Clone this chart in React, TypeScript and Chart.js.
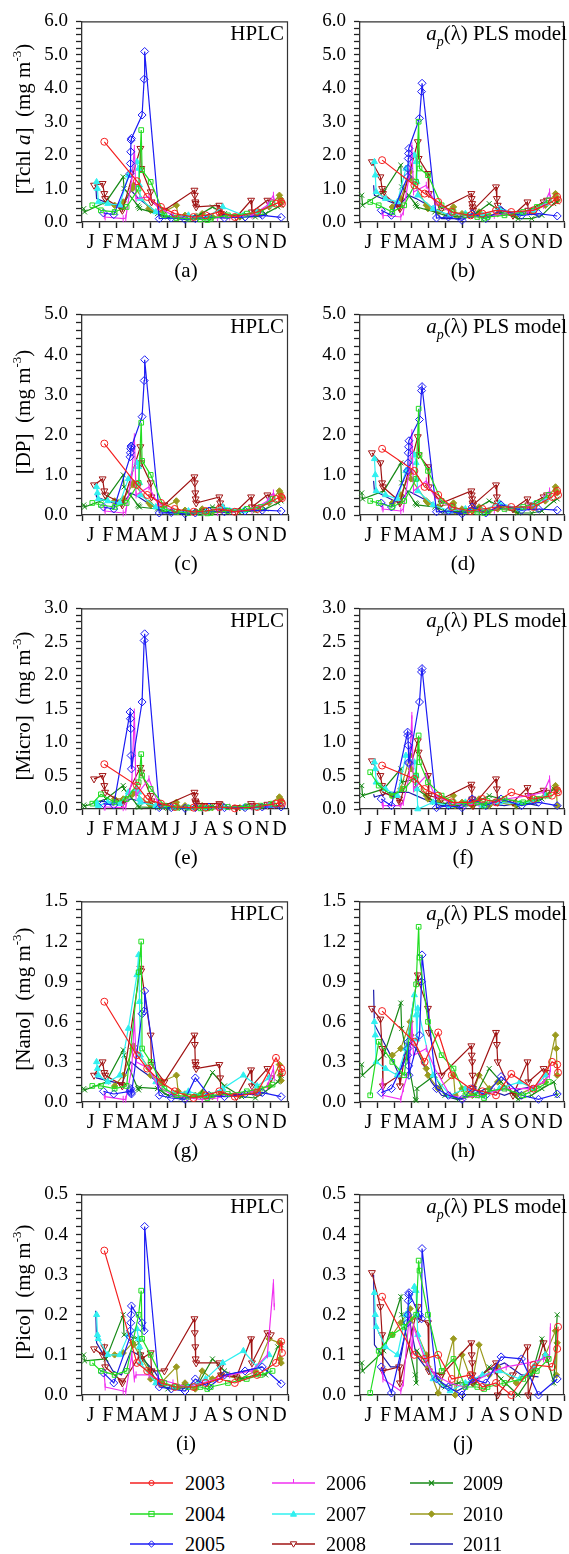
import React, { useEffect, useRef } from 'react';
import { Chart, registerables } from 'chart.js';
Chart.register(...registerables);

const YEARS = ['2003', '2004', '2005', '2006', '2007', '2008', '2009', '2010', '2011'];
const MONTH_LABELS = ['J', 'F', 'M', 'A', 'M', 'J', 'J', 'A', 'S', 'O', 'N', 'D'];

// sampling dates in months since 1 January
const DATES_2003 = [1.3, 3.2, 3.8, 4.6, 5.4, 6.5, 7.2, 8.0, 8.9, 10.2, 11.3, 11.6, 11.65];
const DATES_2004 = [0.6, 1.1, 1.9, 2.6, 3.3, 3.45, 3.5, 4.0, 4.8, 5.5, 6.2, 6.9, 7.3, 7.5, 8.5, 9.6, 10.4, 11.1];
const DATES_2005 = [1.25, 1.85, 2.8, 2.82, 2.84, 2.86, 2.88, 3.5, 3.62, 3.65, 4.5, 5.2, 6.0, 6.6, 7.4, 8.3, 9.5, 10.5, 11.6];
const DATES_2006 = [1.3, 1.35, 2.4, 2.55, 2.9, 3.05, 3.15, 3.9, 4.4, 5.3, 6.1, 7.0, 7.9, 8.6, 9.9, 10.8, 11.15, 11.2];
const DATES_2007 = [0.85, 0.9, 0.95, 1.5, 2.2, 2.7, 3.2, 3.3, 3.35, 3.4, 4.3, 5.3, 6.2, 7.2, 8.2, 9.4, 10.2, 10.9];
const DATES_2008 = [0.7, 1.2, 1.3, 1.35, 2.3, 2.35, 3.4, 3.45, 4.0, 4.05, 4.8, 6.55, 6.57, 6.6, 6.62, 6.65, 8.0, 8.05, 8.1, 9.0, 9.85, 9.9, 10.8, 11.0];
const DATES_2009 = [0.1, 0.15, 1.4, 2.4, 2.45, 3.25, 3.3, 3.35, 4.4, 5.0, 5.8, 6.8, 7.6, 8.3, 9.3, 10.1, 10.7, 11.4, 11.6];
const DATES_2010 = [1.9, 2.4, 2.95, 3.0, 3.9, 4.0, 4.6, 5.5, 5.6, 6.0, 6.6, 7.0, 7.6, 8.1, 9.2, 10.1, 10.9, 11.5, 11.55, 11.6];
const DATES_2011 = [0.8, 0.85, 1.8, 2.3, 2.85, 3.3, 4.2, 4.8, 5.7, 6.6, 7.4, 8.5, 9.5, 10.5];
const SAMPLE_DATES = [DATES_2003, DATES_2004, DATES_2005, DATES_2006, DATES_2007, DATES_2008, DATES_2009, DATES_2010, DATES_2011];

// one row per year (2003..2011)
const TCHL_HPLC = [
  [2.4, 1.22, 0.75, 0.45, 0.25, 0.15, 0.2, 0.3, 0.15, 0.3, 0.55, 0.6, 0.55],
  [0.5, 0.35, 0.3, 0.45, 1.0, 2.75, 1.55, 1.2, 0.2, 0.12, 0.1, 0.08, 0.06, 0.1, 0.2, 0.25, 0.3, 0.55],
  [0.27, 0.22, 1.45, 1.75, 2.1, 2.45, 2.5, 3.2, 4.27, 5.1, 0.1, 0.12, 0.08, 0.1, 0.15, 0.12, 0.15, 0.2, 0.14],
  [0.2, 0.15, 0.1, 0.12, 1.3, 2.2, 0.7, 0.75, 0.45, 0.2, 0.12, 0.1, 0.12, 0.15, 0.2, 0.5, 0.8, 0.6],
  [1.2, 1.0, 0.6, 0.55, 0.5, 1.4, 1.8, 1.6, 1.1, 0.7, 0.3, 0.15, 0.2, 0.12, 0.45, 0.2, 0.3, 0.5],
  [1.1, 1.15, 0.85, 0.7, 0.4, 0.35, 2.2, 1.6, 0.9, 0.6, 0.35, 0.95, 0.8, 0.6, 0.55, 0.45, 0.5, 0.4, 0.25, 0.15, 0.65, 0.3, 0.65, 0.6],
  [0.4, 0.3, 0.6, 1.35, 1.0, 0.5, 0.45, 0.4, 0.25, 0.15, 0.15, 0.2, 0.45, 0.25, 0.15, 0.15, 0.25, 0.45, 0.5],
  [0.5, 0.6, 1.0, 1.1, 0.4, 0.35, 0.25, 0.5, 0.15, 0.2, 0.15, 0.25, 0.15, 0.2, 0.15, 0.25, 0.45, 0.8, 0.7, 0.6],
  [1.1, 0.7, 0.5, 0.4, 0.95, 0.7, 0.35, 0.15, 0.1, 0.12, 0.15, 0.12, 0.2, 0.15],
];
const TCHL_MODEL = [
  [1.85, 1.1, 0.85, 0.6, 0.3, 0.2, 0.25, 0.35, 0.3, 0.35, 0.6, 0.75, 0.65],
  [0.6, 0.5, 0.3, 0.5, 1.2, 3.0, 1.6, 1.4, 0.5, 0.3, 0.2, 0.15, 0.1, 0.15, 0.2, 0.3, 0.45, 0.65],
  [0.35, 0.2, 1.35, 1.6, 1.9, 2.05, 2.2, 3.1, 3.9, 4.15, 0.12, 0.15, 0.05, 0.25, 0.1, 0.35, 0.2, 0.25, 0.18],
  [0.3, 0.2, 0.15, 0.3, 1.4, 2.3, 0.9, 1.1, 0.6, 0.3, 0.2, 0.15, 0.2, 0.25, 0.3, 0.5, 0.9, 0.7],
  [1.8, 1.4, 0.9, 0.7, 0.6, 1.6, 2.0, 1.8, 1.2, 0.8, 0.4, 0.2, 0.25, 0.2, 0.4, 0.25, 0.35, 0.55],
  [1.8, 1.35, 1.0, 0.85, 0.45, 0.4, 2.4, 1.9, 1.45, 0.85, 0.4, 0.85, 0.7, 0.55, 0.45, 0.35, 1.05, 0.7, 0.5, 0.2, 0.6, 0.35, 0.6, 0.65],
  [0.8, 0.5, 0.9, 1.7, 1.05, 0.55, 0.5, 0.45, 0.3, 0.2, 0.15, 0.25, 0.55, 0.3, 0.1, 0.1, 0.2, 0.55, 0.6],
  [0.45, 0.7, 1.5, 1.3, 0.5, 0.4, 0.3, 0.45, 0.2, 0.25, 0.2, 0.3, 0.2, 0.25, 0.2, 0.3, 0.5, 0.85, 0.75, 0.65],
  [1.1, 0.8, 0.6, 0.5, 0.8, 0.7, 0.45, 0.1, 0.1, 0.15, 0.2, 0.25, 0.3, 0.2],
];
const DP_HPLC = [
  [1.78, 0.75, 0.5, 0.3, 0.15, 0.08, 0.1, 0.15, 0.08, 0.15, 0.4, 0.45, 0.42],
  [0.3, 0.25, 0.2, 0.3, 0.8, 2.3, 1.35, 1.0, 0.15, 0.08, 0.05, 0.05, 0.04, 0.05, 0.1, 0.15, 0.2, 0.4],
  [0.2, 0.15, 1.45, 1.55, 1.65, 1.72, 1.7, 2.45, 3.35, 3.87, 0.05, 0.06, 0.03, 0.05, 0.1, 0.08, 0.1, 0.12, 0.1],
  [0.15, 0.1, 0.05, 0.08, 1.0, 1.95, 0.5, 0.7, 0.3, 0.1, 0.05, 0.05, 0.06, 0.1, 0.12, 0.35, 0.55, 0.45],
  [0.7, 0.55, 0.4, 0.35, 0.3, 0.9, 1.3, 1.2, 0.8, 0.5, 0.2, 0.08, 0.1, 0.06, 0.2, 0.1, 0.15, 0.35],
  [0.75, 0.9, 0.6, 0.5, 0.3, 0.25, 1.7, 1.3, 0.8, 0.45, 0.25, 0.95, 0.8, 0.55, 0.4, 0.3, 0.45, 0.3, 0.2, 0.1, 0.45, 0.2, 0.5, 0.45],
  [0.25, 0.2, 0.4, 1.0, 0.7, 0.25, 0.22, 0.2, 0.15, 0.08, 0.08, 0.1, 0.2, 0.12, 0.08, 0.1, 0.15, 0.3, 0.35],
  [0.35, 0.4, 0.75, 0.8, 0.3, 0.25, 0.15, 0.35, 0.08, 0.12, 0.08, 0.15, 0.08, 0.12, 0.1, 0.15, 0.3, 0.6, 0.55, 0.45],
  [0.55, 0.45, 0.3, 0.25, 0.55, 0.45, 0.2, 0.08, 0.05, 0.06, 0.08, 0.06, 0.12, 0.1],
];
const DP_MODEL = [
  [1.65, 1.1, 0.7, 0.5, 0.2, 0.1, 0.15, 0.2, 0.2, 0.2, 0.45, 0.6, 0.5],
  [0.35, 0.3, 0.2, 0.35, 0.9, 2.65, 1.5, 1.1, 0.35, 0.2, 0.1, 0.08, 0.05, 0.1, 0.15, 0.2, 0.3, 0.5],
  [0.3, 0.2, 1.1, 1.3, 1.55, 1.7, 1.85, 2.38, 3.1, 3.2, 0.08, 0.1, 0.03, 0.2, 0.05, 0.25, 0.12, 0.15, 0.12],
  [0.2, 0.15, 0.1, 0.15, 1.1, 2.05, 0.6, 0.85, 0.45, 0.2, 0.1, 0.1, 0.12, 0.15, 0.2, 0.4, 0.6, 0.5],
  [1.4, 1.0, 0.6, 0.5, 0.4, 1.1, 1.5, 1.3, 0.9, 0.6, 0.25, 0.1, 0.15, 0.1, 0.3, 0.15, 0.25, 0.4],
  [1.55, 1.3, 0.8, 0.7, 0.35, 0.3, 1.95, 1.5, 1.2, 0.7, 0.3, 0.6, 0.5, 0.4, 0.3, 0.25, 0.75, 0.45, 0.3, 0.15, 0.4, 0.25, 0.45, 0.5],
  [0.55, 0.4, 0.6, 1.3, 0.8, 0.3, 0.28, 0.25, 0.2, 0.1, 0.08, 0.15, 0.35, 0.2, 0.05, 0.05, 0.1, 0.35, 0.4],
  [0.3, 0.5, 1.05, 0.9, 0.35, 0.3, 0.2, 0.3, 0.1, 0.15, 0.1, 0.2, 0.1, 0.15, 0.1, 0.2, 0.35, 0.7, 0.6, 0.55],
  [0.85, 0.6, 0.4, 0.3, 0.6, 0.5, 0.3, 0.05, 0.05, 0.08, 0.1, 0.15, 0.2, 0.12],
];
const MICRO_HPLC = [
  [0.67, 0.35, 0.15, 0.08, 0.03, 0.02, 0.02, 0.03, 0.01, 0.03, 0.08, 0.1, 0.08],
  [0.08, 0.22, 0.1, 0.15, 0.4, 0.82, 0.5, 0.3, 0.05, 0.02, 0.02, 0.01, 0.01, 0.02, 0.03, 0.04, 0.05, 0.08],
  [0.08, 0.06, 1.45, 1.35, 1.2, 0.8, 0.6, 1.6, 2.52, 2.62, 0.02, 0.02, 0.01, 0.02, 0.03, 0.02, 0.02, 0.03, 0.03],
  [0.03, 0.03, 0.02, 0.03, 0.4, 1.45, 0.2, 0.45, 0.1, 0.03, 0.02, 0.01, 0.02, 0.03, 0.03, 0.05, 0.08, 0.06],
  [0.1, 0.07, 0.05, 0.1, 0.08, 0.25, 0.3, 0.25, 0.15, 0.1, 0.05, 0.02, 0.02, 0.01, 0.03, 0.02, 0.03, 0.05],
  [0.45, 0.5, 0.35, 0.25, 0.1, 0.08, 0.62, 0.55, 0.2, 0.12, 0.05, 0.25, 0.2, 0.12, 0.1, 0.08, 0.08, 0.06, 0.04, 0.02, 0.08, 0.05, 0.07, 0.06],
  [0.06, 0.04, 0.15, 0.35, 0.3, 0.05, 0.03, 0.03, 0.02, 0.01, 0.01, 0.02, 0.04, 0.03, 0.01, 0.02, 0.03, 0.05, 0.05],
  [0.15, 0.15, 0.22, 0.25, 0.08, 0.06, 0.05, 0.1, 0.03, 0.05, 0.02, 0.05, 0.02, 0.04, 0.02, 0.04, 0.07, 0.18, 0.15, 0.12],
  [0.14, 0.12, 0.1, 0.08, 0.15, 0.12, 0.06, 0.02, 0.01, 0.02, 0.02, 0.02, 0.04, 0.03],
];
const MICRO_MODEL = [
  [0.65, 0.45, 0.3, 0.2, 0.1, 0.1, 0.15, 0.1, 0.25, 0.15, 0.2, 0.28, 0.25],
  [0.55, 0.35, 0.2, 0.3, 0.5, 1.1, 0.7, 0.4, 0.2, 0.1, 0.08, 0.1, 0.05, 0.12, 0.15, 0.1, 0.15, 0.2],
  [0.15, 0.05, 1.15, 1.1, 0.95, 0.7, 0.68, 1.6, 2.05, 2.1, 0.02, 0.05, 0.02, 0.15, 0.05, 0.15, 0.05, 0.1, 0.05],
  [0.1, 0.05, 0.05, 0.1, 0.5, 1.4, 0.3, 0.5, 0.2, 0.1, 0.05, 0.08, 0.1, 0.15, 0.2, 0.25, 0.45, 0.3],
  [0.7, 0.6, 0.4, 0.3, 0.2, 0.8, 0.7, 0.5, 0.3, 0.0, 0.1, 0.05, 0.1, 0.05, 0.1, 0.08, 0.12, 0.2],
  [0.72, 0.5, 0.35, 0.25, 0.15, 0.1, 1.02, 0.85, 0.5, 0.2, 0.15, 0.37, 0.3, 0.15, 0.1, 0.05, 0.45, 0.3, 0.1, 0.1, 0.32, 0.2, 0.28, 0.25],
  [0.35, 0.2, 0.3, 0.6, 0.4, 0.45, 0.35, 0.3, 0.1, 0.08, 0.05, 0.1, 0.2, 0.15, 0.05, 0.1, 0.15, 0.3, 0.25],
  [0.2, 0.3, 0.8, 0.6, 0.2, 0.15, 0.1, 0.2, 0.05, 0.1, 0.05, 0.15, 0.05, 0.1, 0.05, 0.15, 0.2, 0.35, 0.3, 0.05],
  [0.22, 0.18, 0.25, 0.25, 0.25, 0.2, 0.1, 0.05, 0.05, 0.05, 0.08, 0.05, 0.1, 0.05],
];
const NANO_HPLC = [
  [0.75, 0.35, 0.25, 0.15, 0.08, 0.03, 0.05, 0.08, 0.04, 0.07, 0.33, 0.25, 0.22],
  [0.12, 0.12, 0.1, 0.12, 0.97, 1.2, 0.4, 0.3, 0.1, 0.05, 0.04, 0.05, 0.03, 0.05, 0.06, 0.08, 0.1, 0.13],
  [0.08, 0.06, 0.08, 0.09, 0.1, 0.07, 0.06, 0.66, 0.68, 0.83, 0.05, 0.03, 0.02, 0.18, 0.05, 0.04, 0.06, 0.07, 0.04],
  [0.05, 0.04, 0.02, 0.02, 0.25, 0.64, 0.3, 0.25, 0.12, 0.05, 0.03, 0.02, 0.03, 0.06, 0.08, 0.12, 0.25, 0.18],
  [0.3, 0.25, 0.2, 0.15, 0.2, 0.55, 0.95, 1.1, 0.75, 0.35, 0.15, 0.06, 0.08, 0.04, 0.1, 0.2, 0.12, 0.18],
  [0.2, 0.3, 0.22, 0.2, 0.13, 0.12, 1.0, 0.98, 0.5, 0.28, 0.15, 0.5, 0.43, 0.3, 0.28, 0.25, 0.28, 0.18, 0.07, 0.04, 0.24, 0.12, 0.25, 0.18],
  [0.1, 0.09, 0.15, 0.39, 0.35, 0.1, 0.09, 0.11, 0.1, 0.05, 0.03, 0.04, 0.22, 0.12, 0.04, 0.03, 0.08, 0.15, 0.2],
  [0.12, 0.2, 0.4, 0.42, 0.25, 0.2, 0.15, 0.2, 0.08, 0.06, 0.05, 0.07, 0.04, 0.06, 0.05, 0.08, 0.12, 0.28, 0.2, 0.16],
  [0.22, 0.18, 0.15, 0.13, 0.3, 0.25, 0.17, 0.06, 0.03, 0.04, 0.05, 0.04, 0.06, 0.05],
];
const NANO_MODEL = [
  [0.68, 0.45, 0.3, 0.52, 0.2, 0.1, 0.08, 0.05, 0.21, 0.1, 0.3, 0.28, 0.22],
  [0.05, 0.45, 0.3, 0.2, 0.88, 1.31, 1.08, 0.6, 0.35, 0.25, 0.05, 0.05, 0.03, 0.08, 0.1, 0.05, 0.1, 0.15],
  [0.07, 0.1, 0.35, 0.4, 0.45, 0.27, 0.2, 0.5, 0.9, 1.1, 0.1, 0.05, 0.02, 0.1, 0.05, 0.19, 0.05, 0.02, 0.06],
  [0.15, 0.05, 0.02, 0.1, 0.25, 0.6, 0.35, 0.4, 0.25, 0.05, 0.03, 0.05, 0.08, 0.1, 0.1, 0.15, 0.2, 0.25],
  [0.6, 0.5, 0.3, 0.25, 0.2, 0.4, 0.8, 0.65, 0.47, 0.7, 0.2, 0.05, 0.1, 0.05, 0.1, 0.15, 0.1, 0.2],
  [0.7, 0.62, 0.4, 0.12, 0.2, 0.12, 0.95, 0.9, 0.7, 0.52, 0.2, 0.42, 0.35, 0.3, 0.2, 0.1, 0.52, 0.43, 0.3, 0.05, 0.3, 0.15, 0.25, 0.22],
  [0.28, 0.2, 0.35, 0.74, 0.55, 0.02, 0.01, 0.1, 0.2, 0.05, 0.02, 0.05, 0.25, 0.15, 0.02, 0.05, 0.1, 0.15, 0.05],
  [0.35, 0.4, 0.6, 0.5, 0.25, 0.2, 0.1, 0.2, 0.05, 0.1, 0.05, 0.2, 0.1, 0.15, 0.05, 0.1, 0.15, 0.5, 0.4, 0.2],
  [0.84, 0.58, 0.35, 0.2, 0.45, 0.4, 0.15, 0.05, 0.02, 0.05, 0.1, 0.05, 0.1, 0.12],
];
const PICO_HPLC = [
  [0.36, 0.08, 0.06, 0.03, 0.02, 0.02, 0.03, 0.04, 0.03, 0.05, 0.08, 0.133, 0.105],
  [0.08, 0.06, 0.05, 0.06, 0.2, 0.26, 0.14, 0.1, 0.03, 0.02, 0.02, 0.02, 0.015, 0.02, 0.03, 0.04, 0.05, 0.06],
  [0.055, 0.03, 0.145, 0.16, 0.18, 0.2, 0.222, 0.18, 0.16, 0.42, 0.02, 0.015, 0.01, 0.04, 0.02, 0.05, 0.06, 0.07, 0.028],
  [0.05, 0.02, 0.01, 0.008, 0.1, 0.04, 0.05, 0.05, 0.04, 0.03, 0.02, 0.03, 0.04, 0.05, 0.06, 0.1, 0.28, 0.22],
  [0.2, 0.15, 0.14, 0.1, 0.1, 0.15, 0.165, 0.14, 0.12, 0.08, 0.03, 0.02, 0.02, 0.04, 0.08, 0.11, 0.07, 0.1],
  [0.115, 0.1, 0.12, 0.07, 0.035, 0.03, 0.1, 0.09, 0.105, 0.06, 0.06, 0.19, 0.155, 0.12, 0.09, 0.08, 0.08, 0.07, 0.05, 0.045, 0.14, 0.08, 0.155, 0.15],
  [0.1, 0.085, 0.09, 0.2, 0.15, 0.14, 0.13, 0.11, 0.03, 0.015, 0.02, 0.03, 0.09, 0.06, 0.04, 0.05, 0.05, 0.12, 0.125],
  [0.1, 0.105, 0.13, 0.125, 0.06, 0.04, 0.03, 0.07, 0.02, 0.03, 0.015, 0.06, 0.04, 0.05, 0.04, 0.06, 0.14, 0.13, 0.09, 0.08],
  [0.21, 0.13, 0.06, 0.05, 0.11, 0.1, 0.06, 0.02, 0.015, 0.02, 0.03, 0.05, 0.06, 0.07],
];
const PICO_MODEL = [
  [0.245, 0.1, 0.09, 0.1, 0.04, 0.05, 0.02, 0.03, 0.0, 0.075, 0.07, 0.115, 0.17],
  [0.005, 0.11, 0.15, 0.17, 0.2, 0.335, 0.31, 0.2, 0.06, 0.09, 0.02, 0.02, 0.015, 0.02, 0.03, 0.04, 0.06, 0.09],
  [0.07, 0.005, 0.18, 0.2, 0.235, 0.25, 0.255, 0.2, 0.19, 0.365, 0.04, 0.02, 0.0, 0.04, 0.03, 0.095, 0.09, 0.0, 0.04],
  [0.06, 0.04, 0.01, 0.03, 0.2, 0.1, 0.17, 0.08, 0.05, 0.03, 0.02, 0.04, 0.06, 0.07, 0.08, 0.09, 0.1, 0.17],
  [0.255, 0.2, 0.17, 0.12, 0.1, 0.2, 0.27, 0.26, 0.2, 0.15, 0.04, 0.01, 0.03, 0.05, 0.06, 0.04, 0.07, 0.1],
  [0.305, 0.22, 0.15, 0.06, 0.07, 0.03, 0.22, 0.19, 0.18, 0.06, 0.05, 0.13, 0.1, 0.08, 0.05, 0.03, 0.08, 0.06, 0.0, 0.05, 0.12, 0.0, 0.13, 0.09],
  [0.08, 0.06, 0.11, 0.245, 0.2, 0.05, 0.03, 0.11, 0.05, 0.02, 0.03, 0.03, 0.07, 0.04, 0.0, 0.05, 0.14, 0.03, 0.2],
  [0.15, 0.18, 0.215, 0.19, 0.1, 0.07, 0.005, 0.14, 0.0, 0.1, 0.03, 0.125, 0.05, 0.07, 0.03, 0.06, 0.1, 0.16, 0.05, 0.13],
  [0.3, 0.125, 0.07, 0.07, 0.2, 0.1, 0.05, 0.02, 0.01, 0.03, 0.06, 0.08, 0.05, 0.045],
];

const FONT = '"Liberation Serif", "Times New Roman", Times, serif';
const AXIS_COLOR = '#333';
const TICK_COLOR = '#222';
Chart.defaults.font.family = FONT;

type YearStyle = { color: string; point: string; rot: number; fill: boolean; r: number };
const YEAR_STYLES: YearStyle[] = [
  { color: '#f42020', point: 'circle', rot: 0, fill: false, r: 3.5 },
  { color: '#22dd22', point: 'rect', rot: 0, fill: false, r: 3.3 },
  { color: '#1c1cf4', point: 'rectRot', rot: 0, fill: false, r: 4 },
  { color: '#f030f0', point: 'line', rot: 90, fill: false, r: 3.5 },
  { color: '#30f0f0', point: 'triangle', rot: 0, fill: true, r: 3.5 },
  { color: '#a01414', point: 'triangle', rot: 180, fill: false, r: 4 },
  { color: '#178a17', point: 'crossRot', rot: 0, fill: false, r: 3.5 },
  { color: '#9a9a1e', point: 'rectRot', rot: 0, fill: true, r: 3.2 },
  { color: '#1c1caa', point: 'circle', rot: 0, fill: true, r: 0 },
];

type PanelDef = {
  values: number[][]; max: number; major: number; minor: number;
  row: number; col: number; tag: string;
};
const PANELS: PanelDef[] = [
  { values: TCHL_HPLC, max: 6, major: 1, minor: 0.2, row: 0, col: 0, tag: '(a)' },
  { values: TCHL_MODEL, max: 6, major: 1, minor: 0.2, row: 0, col: 1, tag: '(b)' },
  { values: DP_HPLC, max: 5, major: 1, minor: 0.2, row: 1, col: 0, tag: '(c)' },
  { values: DP_MODEL, max: 5, major: 1, minor: 0.2, row: 1, col: 1, tag: '(d)' },
  { values: MICRO_HPLC, max: 3, major: 0.5, minor: 0.1, row: 2, col: 0, tag: '(e)' },
  { values: MICRO_MODEL, max: 3, major: 0.5, minor: 0.1, row: 2, col: 1, tag: '(f)' },
  { values: NANO_HPLC, max: 1.5, major: 0.3, minor: 0.06, row: 3, col: 0, tag: '(g)' },
  { values: NANO_MODEL, max: 1.5, major: 0.3, minor: 0.06, row: 3, col: 1, tag: '(h)' },
  { values: PICO_HPLC, max: 0.5, major: 0.1, minor: 0.02, row: 4, col: 0, tag: '(i)' },
  { values: PICO_MODEL, max: 0.5, major: 0.1, minor: 0.02, row: 4, col: 1, tag: '(j)' },
];
const ROW_TITLES = ['Tchl', 'DP', 'Micro', 'Nano', 'Pico'];

// geometry
const PLOT_LEFT = [82, 360];
const PLOT_RIGHT = [290, 566];
const PLOT_H = 206;
const plotTop = (r: number) => Math.round(16 + 293.3 * r);
const Y_AXIS_W = 70;
const X_AXIS_H = 40;
const PAD_TOP = 14;
const PAD_RIGHT = 3;

const framePlugin = {
  id: 'frame',
  afterDatasetsDraw(chart: any) {
    const { ctx, chartArea: a } = chart;
    ctx.save();
    ctx.strokeStyle = AXIS_COLOR;
    ctx.lineWidth = 1.2;
    ctx.beginPath();
    ctx.moveTo(a.left, a.top + 0.5);
    ctx.lineTo(a.right - 0.5, a.top + 0.5);
    ctx.lineTo(a.right - 0.5, a.bottom);
    ctx.stroke();
    ctx.restore();
  },
};

function Panel({ def }: { def: PanelDef }) {
  const ref = useRef<HTMLCanvasElement>(null);
  const left = PLOT_LEFT[def.col] - Y_AXIS_W;
  const width = Y_AXIS_W + (PLOT_RIGHT[def.col] - PLOT_LEFT[def.col]) + PAD_RIGHT;
  const top = plotTop(def.row) - PAD_TOP;
  const height = PAD_TOP + PLOT_H + X_AXIS_H;

  useEffect(() => {
    if (!ref.current) return;
    const datasets = YEARS.map((year, i) => {
      const dates = SAMPLE_DATES[i];
      const vals = def.values[i];
      const n = Math.min(dates.length, vals.length);
      const data: { x: number; y: number }[] = [];
      for (let k = 0; k < n; k++) data.push({ x: dates[k], y: vals[k] });
      const s = YEAR_STYLES[i];
      return {
        label: year,
        data,
        showLine: true,
        borderColor: s.color,
        backgroundColor: s.fill ? s.color : 'rgba(0,0,0,0)',
        borderWidth: 1.2,
        pointStyle: s.point as any,
        pointRotation: s.rot,
        pointRadius: s.r,
        pointBorderWidth: 1,
        pointBorderColor: s.color,
        pointBackgroundColor: s.fill ? s.color : 'rgba(0,0,0,0)',
        tension: 0,
        clip: 8,
      };
    });
    const nMinor = Math.round(def.max / def.minor);
    const isMajor = (v: number) => Math.abs(v / def.major - Math.round(v / def.major)) < 1e-6;
    const chart = new Chart(ref.current, {
      type: 'scatter',
      data: { datasets },
      plugins: [framePlugin],
      options: {
        animation: false,
        responsive: false,
        events: [],
        layout: { padding: { top: PAD_TOP, right: PAD_RIGHT, left: 0, bottom: 0 } },
        plugins: { legend: { display: false }, tooltip: { enabled: false } },
        scales: {
          x: {
            type: 'linear',
            min: 0,
            max: 12,
            afterBuildTicks: (scale: any) => {
              scale.ticks = MONTH_LABELS.map((_, i) => ({ value: i + 0.5 }));
            },
            afterFit: (scale: any) => { scale.height = X_AXIS_H; },
            ticks: {
              autoSkip: false,
              maxRotation: 0,
              minRotation: 0,
              padding: 3,
              color: '#000',
              font: { family: FONT, size: 20 },
              callback: (v: any) => MONTH_LABELS[Math.floor(Number(v))] ?? '',
            },
            grid: {
              display: true, offset: true, drawOnChartArea: false, drawTicks: true,
              tickLength: 6, tickColor: TICK_COLOR, tickWidth: 1.4, color: TICK_COLOR, lineWidth: 1,
            },
            border: { display: true, color: AXIS_COLOR, width: 1.3 },
          },
          y: {
            type: 'linear',
            min: 0,
            max: def.max,
            afterBuildTicks: (scale: any) => {
              const t = [];
              for (let i = 0; i <= nMinor; i++) t.push({ value: +(i * def.minor).toFixed(4) });
              scale.ticks = t;
            },
            afterFit: (scale: any) => { scale.width = Y_AXIS_W; },
            ticks: {
              autoSkip: false,
              padding: 8,
              color: '#000',
              font: { family: FONT, size: 19 },
              callback: (v: any) => (isMajor(Number(v)) ? Number(v).toFixed(1) : ''),
            },
            grid: {
              display: true, drawOnChartArea: false, drawTicks: true, tickLength: 6,
              tickColor: TICK_COLOR, tickWidth: 1.3, color: TICK_COLOR, lineWidth: 1,
            },
            border: { display: true, color: AXIS_COLOR, width: 1.3 },
          },
        },
      } as any,
    });
    return () => chart.destroy();
  }, []);

  return (
    <canvas
      ref={ref}
      width={width}
      height={height}
      style={{ position: 'absolute', left, top, width, height }}
    />
  );
}

function YTitle({ row }: { row: number }) {
  const cy = plotTop(row) + PLOT_H / 2;
  const name = ROW_TITLES[row];
  return (
    <div
      style={{
        position: 'absolute', left: 23, top: cy, transform: 'translate(-50%, -50%) rotate(-90deg)',
        whiteSpace: 'nowrap', fontFamily: FONT, fontSize: 21, lineHeight: 1, color: '#000',
      }}
    >
      [{name}
      {name === 'Tchl' ? <> <i>a</i></> : null}]&nbsp;&nbsp;(mg m
      <sup style={{ fontSize: 13, verticalAlign: 'top', position: 'relative', top: -3 }}>-3</sup>)
    </div>
  );
}

function SourceLabel({ row, col }: { row: number; col: number }) {
  const top = plotTop(row) + 7;
  const right = 569 - (col === 0 ? PLOT_RIGHT[0] - 6 : PLOT_RIGHT[1] + 1);
  return (
    <div
      style={{
        position: 'absolute', top, right, whiteSpace: 'nowrap', fontFamily: FONT,
        fontSize: 21, lineHeight: 1, color: '#000',
      }}
    >
      {col === 0 ? 'HPLC' : (
        <>
          <i>a</i>
          <span style={{ fontSize: 14, position: 'relative', top: 6 }}><i>p</i></span>
          (λ) PLS model
        </>
      )}
    </div>
  );
}

function TagLabel({ def }: { def: PanelDef }) {
  const cx = (PLOT_LEFT[def.col] + PLOT_RIGHT[def.col]) / 2;
  const cy = plotTop(def.row) + 254;
  return (
    <div
      style={{
        position: 'absolute', left: cx, top: cy, transform: 'translate(-50%, -50%)',
        fontFamily: FONT, fontSize: 21, lineHeight: 1, color: '#000', whiteSpace: 'nowrap',
      }}
    >
      {def.tag}
    </div>
  );
}

function LegendSymbol({ s }: { s: YearStyle }) {
  const c = s.color;
  const cx = 21.5, cy = 6;
  let marker: any = null;
  if (s.r > 0) {
    if (s.point === 'circle') marker = <circle cx={cx} cy={cy} r={2.6} fill="none" stroke={c} strokeWidth={1} />;
    else if (s.point === 'rect') marker = <rect x={cx - 2.6} y={cy - 2.6} width={5.2} height={5.2} fill="none" stroke={c} strokeWidth={1} />;
    else if (s.point === 'rectRot') marker = <polygon points={`${cx},${cy - 3.2} ${cx + 3.2},${cy} ${cx},${cy + 3.2} ${cx - 3.2},${cy}`} fill={s.fill ? c : 'none'} stroke={c} strokeWidth={1} />;
    else if (s.point === 'line') marker = <line x1={cx} y1={cy - 4} x2={cx} y2={cy} stroke={c} strokeWidth={1} />;
    else if (s.point === 'triangle' && s.rot === 0) marker = <polygon points={`${cx},${cy - 3.2} ${cx + 3},${cy + 2.2} ${cx - 3},${cy + 2.2}`} fill={c} stroke={c} strokeWidth={1} />;
    else if (s.point === 'triangle') marker = <polygon points={`${cx},${cy + 3.2} ${cx + 3.2},${cy - 2.2} ${cx - 3.2},${cy - 2.2}`} fill="#fff" stroke={c} strokeWidth={1} />;
    else if (s.point === 'crossRot') marker = <path d={`M${cx - 2.5},${cy - 2.5}L${cx + 2.5},${cy + 2.5}M${cx + 2.5},${cy - 2.5}L${cx - 2.5},${cy + 2.5}`} stroke={c} strokeWidth={1.2} />;
  }
  return (
    <svg width={43} height={12} style={{ display: 'block' }}>
      <line x1={0} y1={cy} x2={43} y2={cy} stroke={c} strokeWidth={1.4} />
      {marker}
    </svg>
  );
}

const LEGEND_LINE_X = [130, 272, 410];
const LEGEND_TEXT_X = [185, 326, 463];
const LEGEND_ROW_Y = [1483, 1514, 1544];

function Legend() {
  return (
    <>
      {YEARS.map((y, i) => {
        const col = Math.floor(i / 3);
        const row = i % 3;
        const cy = LEGEND_ROW_Y[row];
        return (
          <React.Fragment key={y}>
            <div style={{ position: 'absolute', left: LEGEND_LINE_X[col], top: cy - 6 }}>
              <LegendSymbol s={YEAR_STYLES[i]} />
            </div>
            <div
              style={{
                position: 'absolute', left: LEGEND_TEXT_X[col], top: cy - 10, fontFamily: FONT,
                fontSize: 20, lineHeight: '20px', color: '#000', whiteSpace: 'nowrap',
              }}
            >
              {y}
            </div>
          </React.Fragment>
        );
      })}
    </>
  );
}

export default function App() {
  return (
    <div style={{ position: 'absolute', left: 0, top: 0, width: 569, height: 1554, background: '#fff', overflow: 'hidden', fontFamily: FONT }}>
      {PANELS.map((p) => (
        <Panel key={p.tag} def={p} />
      ))}
      {[0, 1, 2, 3, 4].map((r) => (
        <YTitle key={'yt' + r} row={r} />
      ))}
      {PANELS.map((p) => (
        <SourceLabel key={'sl' + p.tag} row={p.row} col={p.col} />
      ))}
      {PANELS.map((p) => (
        <TagLabel key={'tg' + p.tag} def={p} />
      ))}
      <Legend />
    </div>
  );
}
